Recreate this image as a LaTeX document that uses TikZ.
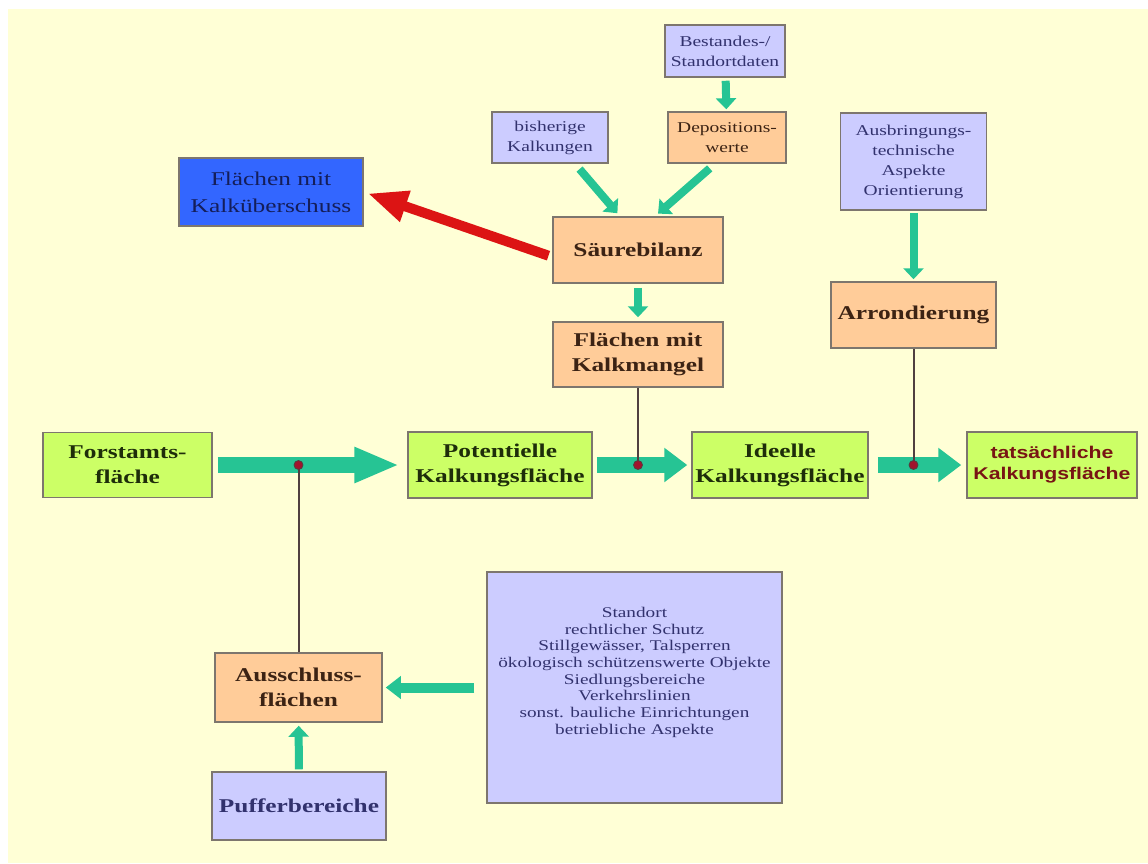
\documentclass[tikz,border=0pt]{standalone}
\usepackage{fontspec}
\setmainfont{Liberation Serif}[FakeStretch=1.3]
\newfontfamily\arialfont{Liberation Sans}[FakeStretch=1.25]
\usetikzlibrary{arrows.meta}
\definecolor{hellgelb}{RGB}{255,255,214}
\definecolor{lila}{RGB}{204,204,255}
\definecolor{pfirsich}{RGB}{255,204,153}
\definecolor{hellgruen}{RGB}{204,255,102}
\definecolor{blaeulich}{RGB}{51,102,255}
\definecolor{tuerkis}{RGB}{38,196,148}
\definecolor{rotlich}{RGB}{220,20,20}
\definecolor{rahmen}{RGB}{125,118,110}
\definecolor{linie}{RGB}{80,64,64}
\definecolor{dunkelrot}{RGB}{160,20,45}
\definecolor{lilaschrift}{RGB}{50,50,110}
\definecolor{braunschrift}{RGB}{60,35,20}
\definecolor{gruenschrift}{RGB}{30,45,10}
\definecolor{blauschrift}{RGB}{20,30,90}
\definecolor{weinrot}{RGB}{120,20,20}
\tikzset{>=Triangle,
  kasten/.style={draw=rahmen, line width=1.5pt, align=center, inner sep=1pt},
  daten/.style={kasten, fill=lila, text=lilaschrift, font=\fontsize{15}{20}\selectfont},
  schritt/.style={kasten, fill=pfirsich, text=braunschrift, font=\fontsize{19.5}{25}\selectfont\bfseries},
  flaeche/.style={kasten, fill=hellgruen, text=gruenschrift, font=\fontsize{19.5}{25}\selectfont\bfseries},
  pfeil/.style={tuerkis, line width=8pt, -{Triangle[length=11pt,width=20pt]}},
  grosspfeil/.style={tuerkis, line width=16pt, -{Triangle[length=23pt,width=33pt]}},
  verbindung/.style={linie, line width=2pt},
  punkt/.style={fill=dunkelrot, draw=linie, line width=0.8pt}}

\begin{document}
\begin{tikzpicture}[x=1pt,y=-1pt]
  \useasboundingbox (0,0) rectangle (1148,863);
  \fill[hellgelb] (8,9) rectangle (1148,863);

  % Daten oben
  \node[daten, minimum width=120pt, minimum height=52pt] (bestand) at (725,51) {Bestandes-/\\Standortdaten};
  \node[daten, minimum width=116pt, minimum height=51pt] (bisher) at (550,137.5) {bisherige\\Kalkungen};
  \node[daten, fill=pfirsich, text=braunschrift, minimum width=118pt, minimum height=51pt] (depos) at (727,137.5) {Depositions-\\werte};
  \node[daten, minimum width=146pt, minimum height=97pt] (ausbr) at (913.5,161.5) {Ausbringungs-\\technische\\Aspekte\\Orientierung};
  \node[kasten, fill=blaeulich, text=blauschrift, font=\fontsize{19.5}{27}\selectfont, minimum width=184pt, minimum height=68pt] (ueber) at (271,192) {Flächen mit\\Kalküberschuss};

  \node[schritt, minimum width=170pt, minimum height=66pt] (saeure) at (638,250) {Säurebilanz};
  \node[schritt, minimum width=170pt, minimum height=65pt] (mangel) at (638,354.5) {Flächen mit\\Kalkmangel};
  \node[schritt, minimum width=165pt, minimum height=66pt] (arrond) at (913.5,315) {Arrondierung};

  % Flaechen
  \node[flaeche, minimum width=169pt, minimum height=65pt] (forst) at (127.5,465) {Forstamts-\\fläche};
  \node[flaeche, minimum width=184pt, minimum height=66pt] (pot) at (500,465) {Potentielle\\Kalkungsfläche};
  \node[flaeche, minimum width=176pt, minimum height=66pt] (ideell) at (780,465) {Ideelle\\Kalkungsfläche};
  \node[flaeche, text=weinrot, font=\fontsize{17}{21}\selectfont\arialfont\bfseries, minimum width=170pt, minimum height=66pt] (tats) at (1052,465) {tatsächliche\\Kalkungsfläche};

  % Ausschluss unten
  \node[schritt, minimum width=167pt, minimum height=69pt] (ausschl) at (298.5,687.5) {Ausschluss-\\flächen};
  \node[schritt, fill=lila, text=lilaschrift, minimum width=174pt, minimum height=68pt] (puffer) at (299,806) {Pufferbereiche};
  \node[daten, font=\fontsize{14.8}{16.7}\selectfont, minimum width=295pt, minimum height=231pt] (krit) at (634.5,687.5)
    {Standort\\rechtlicher Schutz\\Stillgewässer, Talsperren\\ökologisch schützenswerte Objekte\\Siedlungsbereiche\\Verkehrslinien\\sonst. bauliche Einrichtungen\\betriebliche Aspekte\\[17pt]\mbox{}};

  \coordinate (j1) at (ausschl.north |- forst.east);
  \coordinate (j2) at (mangel.south |- pot.east);
  \coordinate (j3) at (arrond.south |- ideell.east);

  % Pfeile
  \draw[pfeil, shorten <=3pt, shorten >=2pt] (bestand) -- (depos);
  \draw[pfeil, shorten <=7pt, shorten >=4pt] ([xshift=25pt]bisher.south) -- ([xshift=-18pt]saeure.north);
  \draw[pfeil, shorten <=7pt, shorten >=4pt] ([xshift=-12pt]depos.south) -- ([xshift=17pt]saeure.north);
  \draw[rotlich, line width=10pt, -{Triangle[length=40pt,width=30pt]}, shorten <=4pt, shorten >=4pt] ([yshift=-7pt]saeure.west) -- (ueber.east);
  \draw[pfeil, shorten <=4pt, shorten >=4pt] (saeure) -- (mangel);
  \draw[pfeil, shorten <=2pt, shorten >=2pt] (ausbr) -- (arrond);

  \draw[grosspfeil, -{Triangle[length=45pt,width=33pt]}, shorten <=5pt, shorten >=8pt] (forst) -- (pot);
  \draw[grosspfeil, shorten <=4pt, shorten >=4pt] (pot) -- (ideell);
  \draw[grosspfeil, shorten <=9pt, shorten >=5pt] (ideell) -- (tats);
  \draw[grosspfeil, line width=10pt, -{Triangle[length=15pt,width=22pt]}, shorten <=12pt, shorten >=3pt] (krit) -- (ausschl);
  \draw[pfeil, shorten <=2pt, shorten >=3pt] (puffer) -- (ausschl);

  % Verbindungen
  \draw[verbindung] (mangel.south) -- (j2);
  \draw[verbindung] (arrond.south) -- (j3);
  \draw[verbindung] (ausschl.north) -- (j1);
  \foreach \j in {j1,j2,j3}
    \draw[punkt] (\j) circle (4.5pt);

\end{tikzpicture}
\end{document}
